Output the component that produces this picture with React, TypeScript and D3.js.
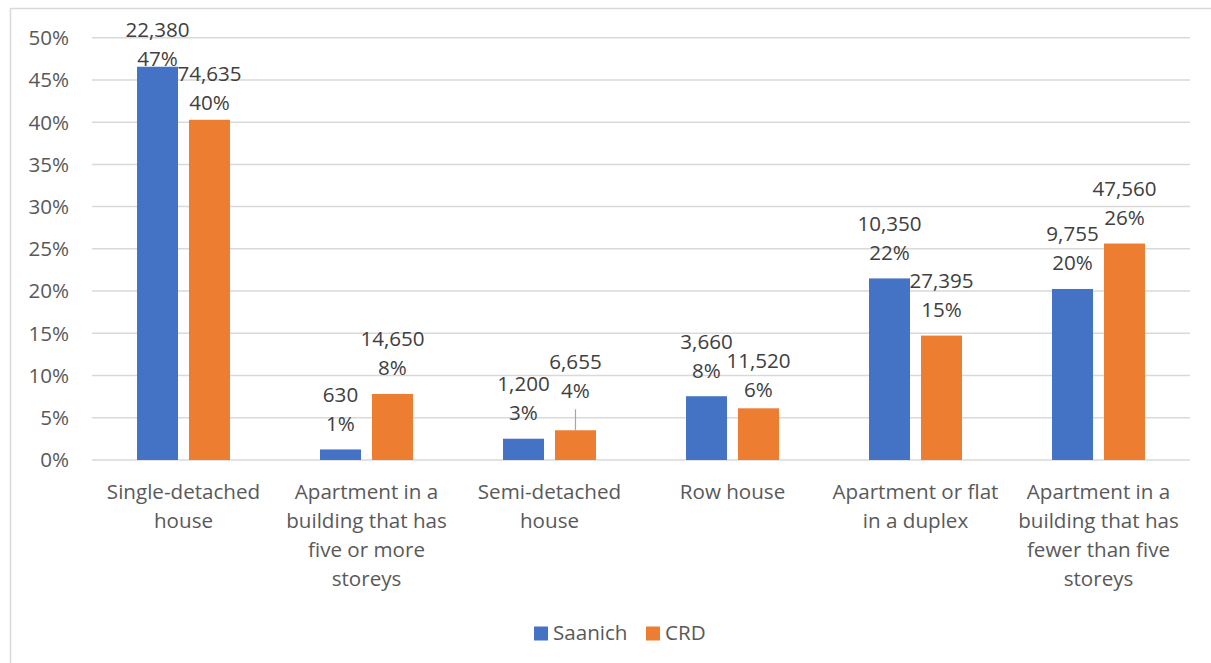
import React from "react";
import * as d3 from "d3";

// ---- data ----
const categories: string[][] = [
  ["Single-detached", "house"],
  ["Apartment in a", "building that has", "five or more", "storeys"],
  ["Semi-detached", "house"],
  ["Row house"],
  ["Apartment or flat", "in a duplex"],
  ["Apartment in a", "building that has", "fewer than five", "storeys"],
];
const seriesNames = ["Saanich", "CRD"];
const saanichCounts = [22380, 630, 1200, 3660, 10350, 9755];
const saanichShare = [46.56, 1.25, 2.52, 7.55, 21.5, 20.25];
const crdCounts = [74635, 14650, 6655, 11520, 27395, 47560];
const crdShare = [40.28, 7.82, 3.52, 6.12, 14.73, 25.63];
const yTicks = [0, 5, 10, 15, 20, 25, 30, 35, 40, 45, 50];

// ---- layout / style ----
const W = 1211;
const H = 663;
const colors = ["#4472C4", "#ED7D31"];
const FONT = "'Open Sans', 'Noto Sans', sans-serif";
const FS = 20.6;
const plot = { left: 92, right: 1190, top: 37.7, bottom: 460 };
// vertical nudges of data labels (layout only), [series][category]
const labelNudge = [
  [17.5, 0, 0, 0, 0, 0],
  [8.5, 0, -14, 7.5, 0, 0],
];

export default function App() {
  const x = d3
    .scaleBand<number>()
    .domain(d3.range(categories.length))
    .range([plot.left, plot.right]);
  const y = d3.scaleLinear().domain([0, 50]).range([plot.bottom, plot.top]);
  const step = x.step();
  const barW = step * 0.224;
  const off = step * 0.142;

  const series = [
    { counts: saanichCounts, share: saanichShare },
    { counts: crdCounts, share: crdShare },
  ];
  const fmt = d3.format(",");

  return (
    <div style={{ position: "absolute", left: 0, top: 0 }}>
      <svg width={W} height={H} style={{ display: "block", fontFamily: FONT }}>
        <rect x={0} y={0} width={W} height={H} fill="#fff" />
        {/* chart frame */}
        <line x1={10.5} x2={10.5} y1={8} y2={H} stroke="#d9d9d9" strokeWidth={1.5} />
        <line x1={10} x2={W} y1={8.5} y2={8.5} stroke="#d9d9d9" strokeWidth={1.5} />

        {/* gridlines */}
        {yTicks.map((t) => (
          <line
            key={"g" + t}
            x1={plot.left}
            x2={plot.right}
            y1={y(t)}
            y2={y(t)}
            stroke="#d9d9d9"
            strokeWidth={1.5}
          />
        ))}
        {/* y tick labels */}
        {yTicks.map((t) => (
          <text
            key={"t" + t}
            x={69}
            y={y(t)}
            dy="0.36em"
            textAnchor="end"
            fontSize={FS}
            fill="#595959"
          >
            {t + "%"}
          </text>
        ))}

        {/* bars */}
        {series.map((s, si) =>
          s.share.map((v, i) => {
            const cx = x(i)! + step / 2 + (si === 0 ? -off : off);
            return (
              <rect
                key={`b${si}-${i}`}
                x={cx - barW / 2}
                y={y(v)}
                width={barW}
                height={y(0) - y(v)}
                fill={colors[si]}
              />
            );
          })
        )}

        {/* leader lines for moved labels */}
        {series.map((s, si) =>
          s.share.map((v, i) => {
            const n = labelNudge[si][i];
            if (n >= 0) return null;
            const cx = x(i)! + step / 2 + (si === 0 ? -off : off);
            const top = y(v);
            return (
              <line
                key={`l${si}-${i}`}
                x1={cx}
                x2={cx}
                y1={top - 21}
                y2={top}
                stroke="#a6a6a6"
                strokeWidth={1.2}
              />
            );
          })
        )}

        {/* data labels */}
        {series.map((s, si) =>
          s.share.map((v, i) => {
            const cx = x(i)! + step / 2 + (si === 0 ? -off : off);
            const b2 = y(v) - 18.5 + labelNudge[si][i];
            return (
              <g key={`d${si}-${i}`} fontSize={FS} fill="#404040" textAnchor="middle">
                <text x={cx} y={b2 - 29}>
                  {fmt(s.counts[i])}
                </text>
                <text x={cx} y={b2}>
                  {Math.round(v) + "%"}
                </text>
              </g>
            );
          })
        )}

        {/* category labels */}
        {categories.map((lines, i) => (
          <text
            key={"c" + i}
            x={x(i)! + step / 2}
            y={499}
            textAnchor="middle"
            fontSize={FS}
            fill="#595959"
          >
            {lines.map((ln, k) => (
              <tspan key={k} x={x(i)! + step / 2} y={499 + k * 29}>
                {ln}
              </tspan>
            ))}
          </text>
        ))}

        {/* legend */}
        <g fontSize={FS} fill="#595959">
          <rect x={534} y={626.5} width={14} height={14} fill={colors[0]} />
          <text x={553} y={639.5}>{seriesNames[0]}</text>
          <rect x={646} y={626.5} width={14} height={14} fill={colors[1]} />
          <text x={665} y={639.5}>{seriesNames[1]}</text>
        </g>
      </svg>
    </div>
  );
}
